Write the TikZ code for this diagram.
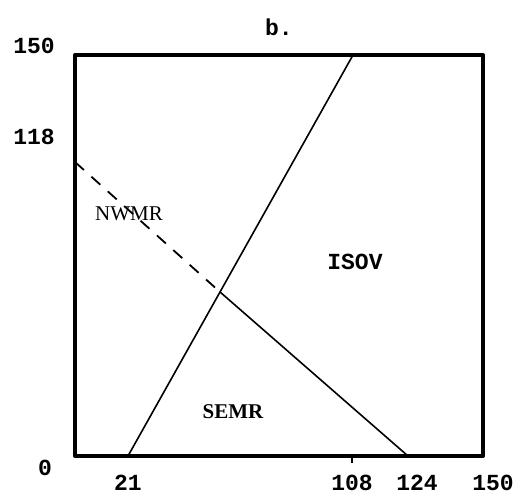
\documentclass[tikz,border=0pt]{standalone}
\usepackage{fontspec}
\setmainfont{Liberation Serif}
\setmonofont{Liberation Mono}
\usetikzlibrary{positioning,calc}

\begin{document}
\begin{tikzpicture}[x=0.5pt, y=-0.5pt,
    numlabel/.style={inner sep=0pt, font=\ttfamily\bfseries\fontsize{11.5}{13}\selectfont},
    region/.style={inner sep=0pt, font=\bfseries\fontsize{10.5}{12}\selectfont},
    frame/.style={line width=2pt, line join=round},
    border/.style={line width=0.8pt}]
    \useasboundingbox (0,0) rectangle (526,503);
    % Corners of the plot
    \coordinate (ll) at (75,456);
    \coordinate (ul) at (75,55);
    \coordinate (ur) at (483,55);
    \coordinate (lr) at (483,456);
    % End points of the boundaries
    \coordinate (a0) at (128,456);
    \coordinate (a1) at (353,55);
    \coordinate (b0) at (75,162);
    \coordinate (bx) at ($(a0)!0.409!(a1)$);
    \coordinate (b1) at (408,456);
    \coordinate (t0) at (352,456);
    \coordinate (t1) at (352,463);

    % Frame
    \draw [frame] (ul) -- (ur) -- (lr) -- (ll) -- cycle;
    \draw [line width=0.7pt] (t0) -- (t1);

    % Boundaries
    \draw [border] (a0) -- (a1);
    \draw [border, line width=0.9pt, dash pattern=on 6pt off 5pt] (b0) -- (bx);
    \draw [border] (bx) -- (b1);

    % Nodes
    \node [numlabel] (title) at (279,27) {b.};
    \node [numlabel] (y150) at (34,46) {150};
    \node [numlabel] (y118) at (34,137) {118};
    \node [numlabel] (y0) at (45,468) {0};
    \node [numlabel] (x21) at (128,483) {21};
    \node [numlabel] (x108) at (352,483) {108};
    \node [numlabel] (x124) at (417,483) {124};
    \node [numlabel] (x150) at (493,483) {150};

    \node [region, font=\fontsize{10.5}{12}\selectfont] (nwmr) at (129,214) {NWMR};
    \node [numlabel] (isov) at (355,262) {ISOV};
    \node [region] (semr) at (233,412) {SEMR};
\end{tikzpicture}
\end{document}
